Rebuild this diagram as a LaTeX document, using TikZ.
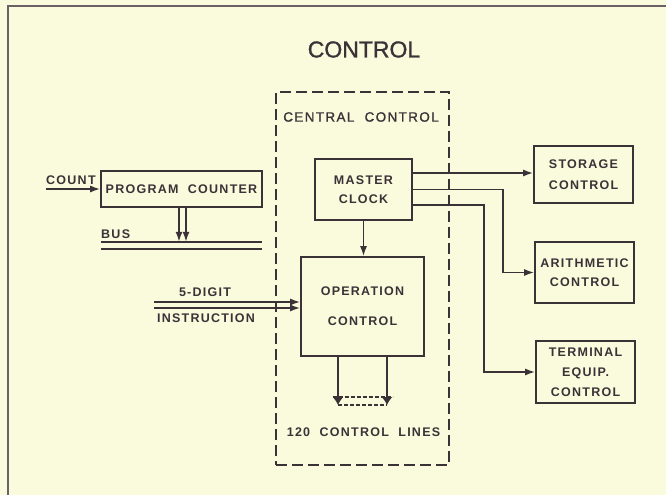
\documentclass[tikz,border=0pt]{standalone}
\usepackage{fontspec}
\setmainfont{Liberation Sans}
\newfontfamily\lettering[LetterSpace=10]{Liberation Sans}
\newfontfamily\framelettering[LetterSpace=10,FakeBold=1.2]{Liberation Sans}
\newfontfamily\titlefont[FakeBold=1.2]{Liberation Sans}
\usetikzlibrary{arrows.meta,calc}
\definecolor{paper}{HTML}{FAFBDD}
\definecolor{ink}{HTML}{3B3237}
\definecolor{rule}{HTML}{6A6065}
\tikzset{
  box/.style={draw=ink, line width=1.7pt, inner sep=0pt, align=center,
    text=ink, font=\lettering\bfseries\fontsize{12.5}{15}\selectfont},
  wire/.style={draw=ink, line width=1.6pt},
  arr/.style={wire, -{Latex[length=10pt,width=7pt]}},
  lbl/.style={text=ink, inner sep=0pt, font=\lettering\bfseries\fontsize{12.5}{15}\selectfont},
  cc/.style={draw=ink, line width=1.6pt, dash pattern=on 11pt off 5pt, inner sep=0pt},
}
\begin{document}
\begin{tikzpicture}[x=1pt, y=-1pt]
  % paper and frame
  \fill[paper] (0,0) rectangle (666,495);
  \useasboundingbox (0,0) rectangle (666,495);
  \draw[rule, line width=2pt] (8,495) -- (8,6) -- (666,6);

  % title
  \node[text=ink, inner sep=0pt, font=\titlefont\fontsize{23}{26}\selectfont] (title) at (364,49.5) {CONTROL};

  % central control frame
  \node[cc, minimum width=173pt, minimum height=373pt] (central) at (362.5,278.5) {};
  \node[lbl, font=\framelettering\fontsize{13.5}{16}\selectfont] (centraltxt) at (361,117) {CENTRAL\ \ CONTROL};

  % program counter and bus
  \node[box, minimum width=161pt, minimum height=36pt] (pc) at (181.5,189) {PROGRAM\ \ COUNTER};
  \coordinate (count) at (46,189);
  \node[lbl, anchor=south west] (counttxt) at (46,185) {COUNT};
  \draw[arr] (count) -- (pc.west);
  \node[inner sep=0pt, minimum width=161pt, minimum height=7pt] (bus) at (181.5,245.5) {};
  \draw[wire] (bus.north west) -- (bus.north east);
  \draw[wire] (bus.south west) -- (bus.south east);
  \node[lbl, anchor=south west] (bustxt) at (101,239) {BUS};
  \draw[arr] ([xshift=-2.5pt]pc.south) -- ([xshift=-2.5pt]pc.south |- bus.north);
  \draw[arr] ([xshift=4.5pt]pc.south) -- ([xshift=4.5pt]pc.south |- bus.north);

  % master clock and operation control
  \node[box, minimum width=97pt, minimum height=61pt] (mc) at (363.5,189.5) {MASTER\\[4pt]CLOCK};
  \node[box, minimum width=123pt, minimum height=99pt] (oc) at (362.5,306.5) {OPERATION\\[15pt]CONTROL};
  \draw[arr] (mc.south) -- (mc.south |- oc.north);

  % instruction input
  \coordinate (instA) at (154,302);
  \coordinate (instB) at (154,308);
  \draw[arr] (instA) -- (instA -| oc.west);
  \draw[arr] (instB) -- (instB -| oc.west);
  \node[lbl] (digittxt) at (205,292) {5-DIGIT};
  \node[lbl] (insttxt) at (206,318.5) {INSTRUCTION};

  % control lines leaving operation control
  \coordinate (cl1) at (338,405);
  \coordinate (cl2) at (387,405);
  \draw[arr, -{Latex[length=8pt,width=11pt]}] (oc.south -| cl1) -- (cl1);
  \draw[arr, -{Latex[length=8pt,width=11pt]}] (oc.south -| cl2) -- (cl2);
  \draw[ink, line width=1.4pt, dash pattern=on 4pt off 2pt] (332.5,397) -- (392.5,397);
  \draw[ink, line width=1.4pt, dash pattern=on 4pt off 2pt] (cl1) -- (cl2);
  \node[lbl] (linestxt) at (363.5,432.5) {120\ \ CONTROL\ \ LINES};

  % controlled units
  \node[box, minimum width=99pt, minimum height=57pt] (sc) at (583.5,174.5) {STORAGE\\[6pt]CONTROL};
  \node[box, minimum width=99pt, minimum height=61pt] (ac) at (584.5,272.5) {ARITHMETIC\\[4pt]CONTROL};
  \node[box, minimum width=99pt, minimum height=62pt] (tc) at (585.5,372) {TERMINAL\\[5pt]EQUIP.\\[5pt]CONTROL};

  % clock distribution
  \draw[arr] ([yshift=16.5pt]mc.east) coordinate (m1) -- (m1 -| sc.west);
  \draw[arr] (mc.east) -| ([xshift=-31pt]ac.west) -- (ac.west);
  \draw[arr] ([yshift=-15.5pt]mc.east) -| ([xshift=-51pt]tc.west) -- (tc.west);
\end{tikzpicture}
\end{document}
